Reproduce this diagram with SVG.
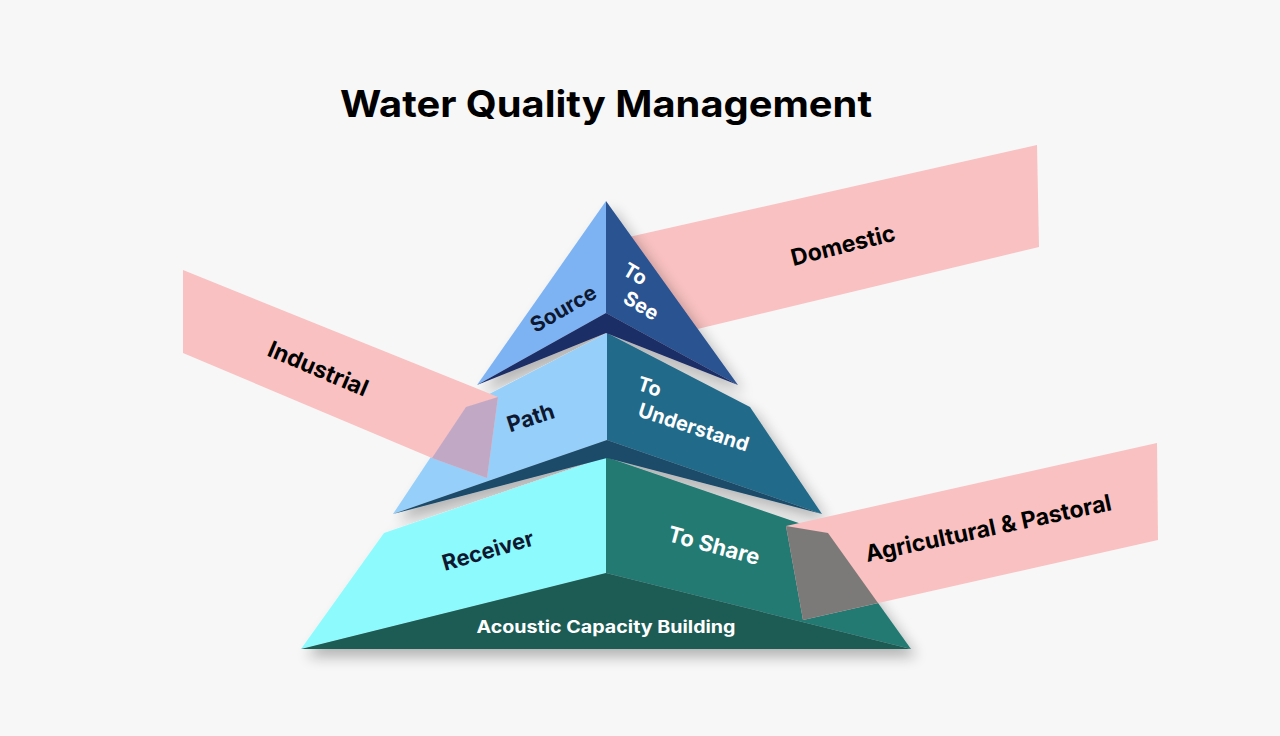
<svg xmlns="http://www.w3.org/2000/svg" width="1280" height="736" viewBox="0 0 1280 736">
  <defs>
    <filter id="shadow" x="-20%" y="-20%" width="140%" height="140%">
      <feGaussianBlur in="SourceAlpha" stdDeviation="7"/>
      <feOffset dx="6" dy="8" result="b"/>
      <feComponentTransfer><feFuncA type="linear" slope="0.28"/></feComponentTransfer>
      <feMerge><feMergeNode/><feMergeNode in="SourceGraphic"/></feMerge>
    </filter>
  </defs>
  <style>
    .lbl { font-family: Inter, "Noto Sans", "Liberation Sans", sans-serif; font-weight: 700; text-anchor: middle; }
    .ll { font-family: Inter, "Noto Sans", "Liberation Sans", sans-serif; font-weight: 700; }
    .dark { fill: #0E1830; }
    .white { fill: #FFFFFF; }
    .blk { fill: #000000; }
    .ribbon { fill: #F9C1C1; }
  </style>
  <rect width="1280" height="736" fill="#F7F7F7"/>

  <text x="606" y="117" class="lbl blk" font-size="37" textLength="532" lengthAdjust="spacingAndGlyphs">Water Quality Management</text>

  <!-- Domestic ribbon (behind pyramid) -->
  <g id="ribbon-domestic">
    <polygon class="ribbon" points="620,239 1037,145 1039,247 660,338"/>
    <text class="lbl blk" font-size="23" transform="translate(845,253) rotate(-14)">Domestic</text>
  </g>

  <g id="pyramid" filter="url(#shadow)">
    <g id="tier-bottom">
      <polygon points="606,457 384,533 301,649 606,573" fill="#8DFBFD"/>
      <polygon points="606,457 828,533 911,649 606,573" fill="#247A73"/>
      <polygon points="301,649 606,573 911,649" fill="#1D5B54"/>
    </g>
    <g id="tier-middle">
      <polygon points="607,333 464,407 393,514 607,440" fill="#95CFFA"/>
      <polygon points="607,333 750,407 822,514 607,440" fill="#246A89"/>
      <polygon points="393,514 607,440 822,514 607,458" fill="#1B4C6B"/>
    </g>
    <g id="tier-top">
      <polygon points="606,201 477,385 606,313" fill="#7EB3F3"/>
      <polygon points="606,201 738,385 606,313" fill="#2B5291"/>
      <polygon points="477,385 606,313 738,385 606,333" fill="#1E2D66"/>
    </g>
  </g>

  <g id="labels-top">
    <text class="lbl dark" font-size="21" transform="translate(567,315) rotate(-30)">Source</text>
    <g transform="translate(626,266) rotate(31)">
      <text class="ll white" font-size="20" x="0" y="9">To</text>
      <text class="ll white" font-size="20" x="15" y="33">See</text>
    </g>
  </g>
  <g id="labels-middle">
    <text class="lbl dark" font-size="22" transform="translate(533,425) rotate(-18)">Path</text>
    <g transform="translate(639,380) rotate(18)">
      <text class="ll white" font-size="20" x="0" y="10">To</text>
      <text class="ll white" font-size="20" x="9" y="35">Understand</text>
    </g>
  </g>
  <g id="labels-bottom">
    <text class="lbl dark" font-size="22" transform="translate(490,558) rotate(-16)">Receiver</text>
    <text class="lbl white" font-size="22" transform="translate(712,553) rotate(15)">To Share</text>
    <text x="606" y="633" class="lbl white" font-size="17" textLength="259" lengthAdjust="spacingAndGlyphs">Acoustic Capacity Building</text>
  </g>

  <g id="ribbon-industrial">
    <polygon class="ribbon" points="183,270 498,397 487,478 432,458 183,353"/>
    <polygon points="466,407 498,397 487,478 432,458" fill="#C1A9C6"/>
    <text class="lbl blk" font-size="23" transform="translate(315,376) rotate(23)">Industrial</text>
  </g>

  <g id="ribbon-agricultural">
    <polygon class="ribbon" points="786,526 1157,443 1158,540 803,620"/>
    <polygon points="786,526 828,533 878,603 803,620" fill="#7C7A78"/>
    <text class="lbl blk" font-size="23" transform="translate(990,536) rotate(-12)">Agricultural &amp; Pastoral</text>
  </g>
</svg>
